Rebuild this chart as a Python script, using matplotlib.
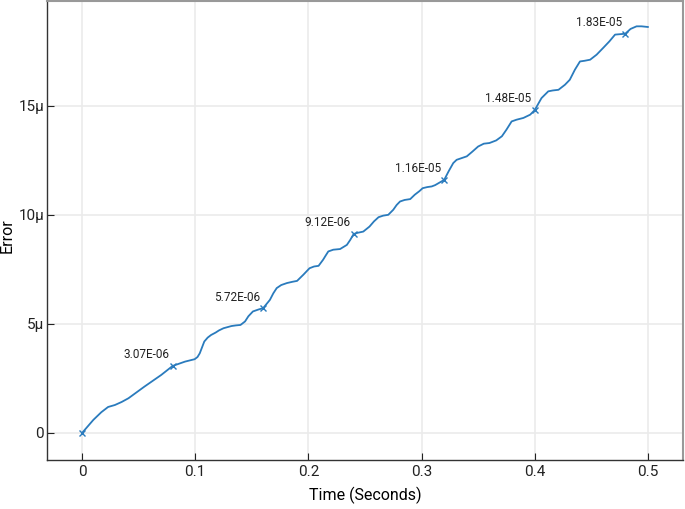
# Error over time with labelled sample points
import matplotlib
matplotlib.use("Agg")
import matplotlib.pyplot as plt
from matplotlib.ticker import FuncFormatter

plt.rcParams['font.family'] = ['Roboto', 'DejaVu Sans']

# curve (time in s, error in micro units)
time = [0.0, 0.005, 0.010, 0.017, 0.023, 0.029, 0.035, 0.041, 0.055, 0.070,
        0.080, 0.091, 0.0995, 0.102, 0.104, 0.106, 0.108, 0.111, 0.114, 0.118,
        0.121, 0.125, 0.132, 0.136, 0.140, 0.144, 0.147, 0.151, 0.156, 0.160,
        0.166, 0.169, 0.172, 0.176, 0.181, 0.186, 0.190, 0.1955, 0.201, 0.205,
        0.209, 0.213, 0.2155, 0.2176, 0.222, 0.228, 0.234, 0.237, 0.240, 0.244,
        0.2485, 0.254, 0.258, 0.262, 0.266, 0.2706, 0.275, 0.278, 0.281, 0.285,
        0.290, 0.294, 0.298, 0.301, 0.305, 0.309, 0.312, 0.315, 0.320, 0.324,
        0.328, 0.331, 0.340, 0.345, 0.350, 0.355, 0.360, 0.366, 0.371, 0.375,
        0.3796, 0.384, 0.390, 0.396, 0.400, 0.406, 0.412, 0.416, 0.421, 0.4267,
        0.431, 0.4355, 0.440, 0.444, 0.449, 0.4547, 0.4605, 0.466, 0.471, 0.480,
        0.4847, 0.490, 0.4944, 0.500]
error_u = [0.0, 0.30, 0.60, 0.95, 1.19, 1.28, 1.42, 1.59, 2.12, 2.66,
           3.07, 3.27, 3.38, 3.48, 3.65, 3.92, 4.19, 4.37, 4.49, 4.60,
           4.70, 4.80, 4.90, 4.93, 4.95, 5.11, 5.35, 5.57, 5.66, 5.72,
           6.10, 6.40, 6.64, 6.78, 6.87, 6.93, 6.97, 7.25, 7.55, 7.63,
           7.66, 7.94, 8.15, 8.32, 8.40, 8.43, 8.62, 8.85, 9.12, 9.18,
           9.23, 9.46, 9.70, 9.89, 9.96, 10.0, 10.23, 10.45, 10.61, 10.68,
           10.72, 10.92, 11.08, 11.22, 11.27, 11.30, 11.36, 11.45, 11.60, 12.00,
           12.37, 12.52, 12.68, 12.90, 13.13, 13.26, 13.29, 13.41, 13.60, 13.90,
           14.28, 14.36, 14.44, 14.59, 14.80, 15.35, 15.66, 15.70, 15.73, 15.96,
           16.19, 16.65, 17.03, 17.06, 17.11, 17.34, 17.65, 17.95, 18.26, 18.30,
           18.52, 18.64, 18.64, 18.61]

# marked samples
mark_t = [0.0, 0.08, 0.16, 0.24, 0.32, 0.40, 0.48]
mark_err = [0.0, 3.07e-06, 5.72e-06, 9.12e-06, 1.16e-05, 1.48e-05, 1.83e-05]
mark_labels = [None, "3.07E-06", "5.72E-06", "9.12E-06", "1.16E-05", "1.48E-05", "1.83E-05"]

color = '#2a7bbd'
error = [e * 1e-6 for e in error_u]

fig = plt.figure(figsize=(6.85, 5.09), dpi=100)
ax = fig.add_axes([0.0686, 0.0963, 0.9284, 0.9017])

ax.plot(time, error, color=color, lw=1.3, solid_joinstyle='round')
ax.plot(mark_t, mark_err, 'x', color=color, ms=4.5, mew=1.0)
for t, e, lab in zip(mark_t, mark_err, mark_labels):
    if lab:
        ax.annotate(lab, (t, e), xytext=(-19, 8), textcoords='offset points',
                    ha='center', va='center', fontsize=8.5, color='#222222')

ax.set_xlim(-0.031, 0.531)
ax.set_ylim(-1.24e-6, 19.8e-6)
ax.set_xticks([0, 0.1, 0.2, 0.3, 0.4, 0.5])
ax.set_xticklabels(["0", "0.1", "0.2", "0.3", "0.4", "0.5"])
ax.set_yticks([0, 5e-6, 10e-6, 15e-6])
ax.yaxis.set_major_formatter(FuncFormatter(
    lambda v, p: "0" if abs(v) < 1e-12 else f"{round(v * 1e6)}\u03bc"))

ax.grid(True, color='#ebebeb', lw=1.2)
ax.set_axisbelow(True)
ax.tick_params(direction='in', length=5, width=0.8, labelsize=11, colors='#222222')
ax.tick_params(axis='y', pad=2)
for s in ['left', 'bottom']:
    ax.spines[s].set_color('#333333')
    ax.spines[s].set_linewidth(1.0)
for s in ['top', 'right']:
    ax.spines[s].set_color('#999999')
    ax.spines[s].set_linewidth(1.5)

ax.set_xlabel("Time (Seconds)", fontsize=11.5, labelpad=6)
ax.set_ylabel("Error", fontsize=11.5, va='center')
ax.yaxis.set_label_coords(-0.062, 0.488)

fig.savefig("out.png", dpi=100)
